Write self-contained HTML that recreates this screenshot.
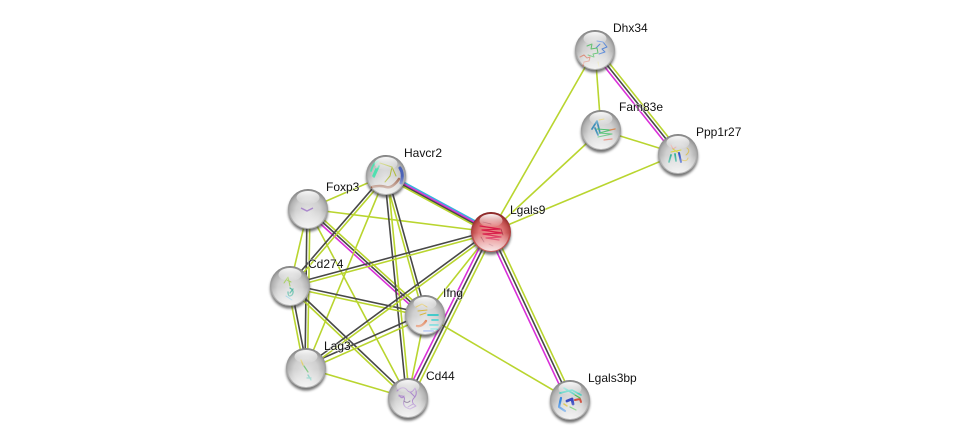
<!DOCTYPE html>
<html><head><meta charset="utf-8"><style>
html,body{margin:0;padding:0;background:#fff;width:975px;height:445px;overflow:hidden}
svg{display:block}
text{font-family:"Liberation Sans",sans-serif;font-size:12px;fill:#111;paint-order:stroke;stroke:#fff;stroke-opacity:.6;stroke-width:1.5px}
.y{stroke:#b9d52f}.k{stroke:#484848}.m{stroke:#d92fd9}.c{stroke:#35b4dc}
line{stroke-width:1.6}
.p path{fill:none;stroke-width:1;stroke-linecap:round;stroke-linejoin:round}
</style></head><body>
<svg width="975" height="445" viewBox="0 0 975 445" xmlns="http://www.w3.org/2000/svg">
<defs>
<radialGradient id="g" cx=".5" cy=".56" r=".56"><stop offset="0" stop-color="#e2e2e2"/><stop offset=".55" stop-color="#d0d0d0"/><stop offset=".8" stop-color="#b2b2b2"/><stop offset=".95" stop-color="#8c8c8c"/><stop offset="1" stop-color="#787878"/></radialGradient>
<radialGradient id="r" cx=".5" cy=".58" r=".58"><stop offset="0" stop-color="#ec8c8c"/><stop offset=".55" stop-color="#df7474"/><stop offset=".8" stop-color="#bd4a4a"/><stop offset=".95" stop-color="#902a2a"/><stop offset="1" stop-color="#7c1e1e"/></radialGradient>
<linearGradient id="h" x1="0" y1="0" x2="0" y2="1"><stop offset="0" stop-color="#fff" stop-opacity=".95"/><stop offset="1" stop-color="#fff" stop-opacity=".05"/></linearGradient>
<linearGradient id="b" x1="0" y1="0" x2="0" y2="1"><stop offset=".5" stop-color="#fff" stop-opacity="0"/><stop offset="1" stop-color="#fff" stop-opacity=".85"/></linearGradient>
<filter id="s" x="-30%" y="-30%" width="160%" height="160%"><feGaussianBlur stdDeviation="1.3"/></filter>
<g id="shadow"><circle cx="0" cy="2.6" r="20" fill="#3c3c3c" opacity=".72" filter="url(#s)"/></g>
<g id="gloss"><circle cy="1" r="18" fill="url(#b)"/><ellipse cx="0" cy="-11.5" rx="11.5" ry="6.5" fill="url(#h)"/></g>
</defs>

<!-- edges -->
<g>
<line class="c" x1="489" y1="228.4" x2="384" y2="171.4"/>
<line class="m" x1="490.3" y1="230.8" x2="385.3" y2="173.8"/>
<line class="k" x1="491.7" y1="233.2" x2="386.7" y2="176.2"/>
<line class="y" x1="493" y1="235.6" x2="388" y2="178.6"/>

<line class="y" x1="308" y1="209" x2="491" y2="232"/>
<line class="y" x1="308" y1="209" x2="386" y2="175"/>

<line class="y" x1="308" y1="209" x2="290" y2="286"/>
<line class="k" x1="307" y1="209" x2="305" y2="368"/>
<line class="y" x1="310" y1="209" x2="307.5" y2="368"/>

<line class="m" x1="306.3" y1="211" x2="423.3" y2="317"/>
<line class="k" x1="308" y1="209" x2="425" y2="315"/>
<line class="y" x1="309.7" y1="207" x2="426.7" y2="313"/>
<line class="y" x1="308" y1="209" x2="408" y2="398"/>

<line class="k" x1="385" y1="174" x2="289" y2="285"/>
<line class="y" x1="387" y1="176" x2="291" y2="287"/>
<line class="y" x1="386" y1="175" x2="306" y2="368"/>
<line class="k" x1="387.5" y1="175" x2="426.5" y2="315"/>
<line class="y" x1="384.5" y1="175" x2="423.5" y2="315"/>
<line class="k" x1="384.5" y1="175" x2="406.5" y2="398"/>
<line class="y" x1="387.5" y1="175" x2="409.5" y2="398"/>

<line class="k" x1="290" y1="284.5" x2="491" y2="230.5"/>
<line class="y" x1="290" y1="287.5" x2="491" y2="233.5"/>
<line class="k" x1="290" y1="284.5" x2="425" y2="313.5"/>
<line class="y" x1="290" y1="287.5" x2="425" y2="316.5"/>
<line class="y" x1="288" y1="286.5" x2="304" y2="368.5"/>
<line class="k" x1="291" y1="286" x2="307" y2="368"/>
<line class="k" x1="291" y1="285" x2="409" y2="397"/>
<line class="y" x1="289" y1="287" x2="407" y2="399"/>

<line class="k" x1="305" y1="366" x2="424" y2="313.5"/>
<line class="y" x1="307" y1="370" x2="426" y2="317"/>
<line class="k" x1="305" y1="367" x2="490" y2="231"/>
<line class="y" x1="307" y1="369" x2="492" y2="233"/>
<line class="y" x1="306" y1="368" x2="408" y2="398"/>
<line class="y" x1="425" y1="315" x2="408" y2="398"/>
<line class="y" x1="425" y1="315" x2="491" y2="232"/>
<line class="y" x1="425" y1="315" x2="570" y2="400"/>

<line class="m" x1="487.8" y1="230.8" x2="404.8" y2="396.8"/>
<line class="k" x1="491" y1="232" x2="408" y2="398"/>
<line class="y" x1="494.2" y1="233.2" x2="411.2" y2="399.2"/>

<line class="m" x1="488" y1="233.2" x2="567" y2="401.2"/>
<line class="k" x1="491" y1="232" x2="570" y2="400"/>
<line class="y" x1="494" y1="230.8" x2="573" y2="398.8"/>

<line class="y" x1="491" y1="232" x2="595" y2="50"/>
<line class="y" x1="491" y1="232" x2="601" y2="130"/>
<line class="y" x1="491" y1="232" x2="678" y2="154"/>
<line class="y" x1="595" y1="50" x2="601" y2="130"/>
<line class="y" x1="601" y1="130" x2="678" y2="154"/>
<line class="m" x1="592.8" y1="52" x2="675.8" y2="156"/>
<line class="k" x1="595" y1="50" x2="678" y2="154"/>
<line class="y" x1="597.2" y1="48" x2="680.2" y2="152"/>
</g>

<!-- Havcr2 -->
<use href="#shadow" x="386" y="175"/><circle cx="386" cy="175" r="20" fill="url(#g)"/>
<g class="p"><path d="M372 187q8-2 14 0t13-8" style="stroke:#98604a;stroke-width:2.6"/><path d="M371 171q2-8 7-10M374 177l5-11M376 169l-3 7" style="stroke:#50e0b0;stroke-width:1.7"/><path d="M400 168q4 6 1 15" style="stroke:#4a62b8;stroke-width:3"/><path d="M380 163l12 4-2 9M385 182l5-6M392 167l4 9" style="stroke:#b0bc3a"/></g>
<use href="#gloss" x="386" y="175"/>
<!-- Foxp3 -->
<use href="#shadow" x="308" y="209"/><circle cx="308" cy="209" r="20" fill="url(#g)"/>
<path d="M301 208l6 3 6-3" fill="none" stroke="#aa88cc" stroke-width="1.5"/>
<use href="#gloss" x="308" y="209"/>
<!-- Cd274 -->
<use href="#shadow" x="290" y="286"/><circle cx="290" cy="286" r="20" fill="url(#g)"/>
<g class="p"><path d="M284 283l4-6 2 9M287 280l4 2" style="stroke:#a8d060"/><path d="M290 288q5 3 2 7-4 3-4-3M293 289l-3 4" style="stroke:#40b098;stroke-width:1.2"/><path d="M286 296l6 4" style="stroke:#60b8d8"/></g>
<use href="#gloss" x="290" y="286"/>
<!-- Ifng -->
<use href="#shadow" x="425" y="315"/><circle cx="425" cy="315" r="20" fill="url(#g)"/>
<g class="p"><path d="M416 307l6-3 5 3M418 311l9-1M420 315l6-2" style="stroke:#d8b840"/><path d="M428 315h10M432 320h6M430 325h8M431 329h6" style="stroke:#30c8c8;stroke-width:1.7"/><path d="M417 326q5 1 9-5" style="stroke:#d86a38;stroke-width:2.4"/><path d="M424 331h9" style="stroke:#3a68d8;stroke-width:2"/></g>
<use href="#gloss" x="425" y="315"/>
<!-- Lag3 -->
<use href="#shadow" x="306" y="368"/><circle cx="306" cy="368" r="20" fill="url(#g)"/>
<g class="p"><path d="M301 360l2 5" style="stroke:#e0d070;stroke-width:1.3"/><path d="M304 366l4 6" style="stroke:#80c880;stroke-width:1.3"/><path d="M308 375l3 5M307 378h4" style="stroke:#60c0b0;stroke-width:1.3"/></g>
<use href="#gloss" x="306" y="368"/>
<!-- Cd44 -->
<use href="#shadow" x="408" y="398"/><circle cx="408" cy="398" r="20" fill="url(#g)"/>
<g class="p"><path d="M397 391q6-6 10-1t8-2q3 6-1 10t2 8l-6 3q-8-2-6-8t-5-5M399 395q3 5 5 1M410 392l5 5M413 404l-5 3" style="stroke:#ac88cc"/><path d="M404 401q3 3 6 0" style="stroke:#8a7a9a"/></g>
<use href="#gloss" x="408" y="398"/>
<!-- Lgals9 -->
<use href="#shadow" x="491" y="232"/><circle cx="491" cy="232" r="20" fill="url(#r)"/>
<g class="p"><path d="M480 226l20 3-18 1 20 3-19 1 18 3-15 1 13 2" style="stroke:#d81c48;stroke-width:1.2"/><path d="M483 222l8 2M481 237l3 5M489 244l4 2M501 229l2 6" style="stroke:#a83848;stroke-width:.8"/></g>
<use href="#gloss" x="491" y="232"/>
<!-- Dhx34 -->
<use href="#shadow" x="595" y="50"/><circle cx="595" cy="50" r="20" fill="url(#g)"/>
<g class="p"><path d="M597 41l6 1 4 5-5 2 3 3-6 2M600 44l-4 4" style="stroke:#5888d8"/><path d="M587 46l5-2-1 5 6-1 1 5-5 1 1 3-6-2" style="stroke:#60c070"/><path d="M580 57l4-2 3 3 3-1-1 4-5 1-1 4" style="stroke:#d07058"/><path d="M598 62l1 5" style="stroke:#d8d080"/></g>
<use href="#gloss" x="595" y="50"/>
<!-- Fam83e -->
<use href="#shadow" x="601" y="130"/><circle cx="601" cy="130" r="20" fill="url(#g)"/>
<g class="p"><path d="M592 129l5-8 3 12M595 128l3 7" style="stroke:#4090b8;stroke-width:1.7"/><path d="M597 129l14 1-12 3 13 1-14 3" style="stroke:#50c070;stroke-width:1.1"/><path d="M604 140l8-1" style="stroke:#d85840;stroke-width:1.2"/><path d="M610 130l5-1" style="stroke:#d88858;stroke-width:1.4"/><path d="M599 120l5-1" style="stroke:#d8c040"/></g>
<use href="#gloss" x="601" y="130"/>
<!-- Ppp1r27 -->
<use href="#shadow" x="678" y="154"/><circle cx="678" cy="154" r="20" fill="url(#g)"/>
<g class="p"><path d="M671 145l2 4 3-2" style="stroke:#e8a8a0"/><path d="M671 152l10-2M673 149l7 5" style="stroke:#d8d840"/><path d="M671 155l-2 7M675 154l1 7" style="stroke:#30b098;stroke-width:1.7"/><path d="M679 153l2 9" style="stroke:#3858c8;stroke-width:2"/><path d="M687 148q4 3-1 7M682 160q5 2 6-2" style="stroke:#d8c060"/></g>
<use href="#gloss" x="678" y="154"/>
<!-- Lgals3bp -->
<use href="#shadow" x="570" y="400"/><circle cx="570" cy="400" r="20" fill="url(#g)"/>
<g class="p"><path d="M560 393l12-3 9 5M564 388l10 6" style="stroke:#50d0c0;stroke-width:1.7"/><path d="M561 398l-2 9 6 4" style="stroke:#3888e0;stroke-width:2.2"/><path d="M567 401l5-2 1 5" style="stroke:#3848c0;stroke-width:2.8"/><path d="M575 400l5-1 1 3" style="stroke:#d05040;stroke-width:2"/><path d="M570 407l6 3M575 395l5 3" style="stroke:#50c050;stroke-width:1.2"/><path d="M564 404l3 2" style="stroke:#d8c040;stroke-width:1.5"/></g>
<use href="#gloss" x="570" y="400"/>

<!-- labels -->
<text x="404" y="157">Havcr2</text>
<text x="326" y="191">Foxp3</text>
<text x="308" y="268">Cd274</text>
<text x="443" y="297">Ifng</text>
<text x="324" y="350">Lag3</text>
<text x="426" y="380">Cd44</text>
<text x="510" y="214">Lgals9</text>
<text x="613" y="32">Dhx34</text>
<text x="619" y="111">Fam83e</text>
<text x="696" y="136">Ppp1r27</text>
<text x="588" y="382">Lgals3bp</text>
</svg>
</body></html>
